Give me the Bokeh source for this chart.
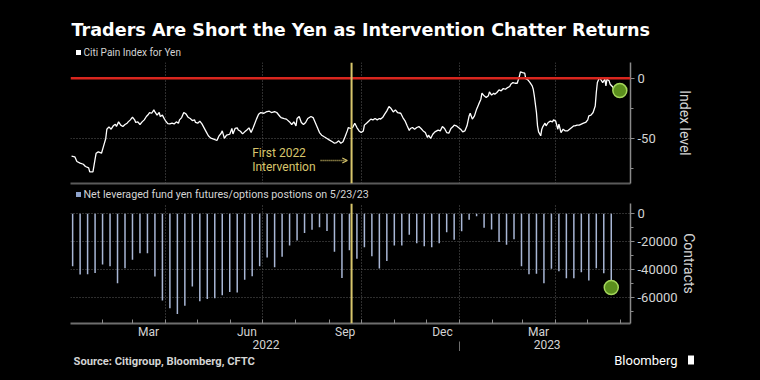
import pandas as pd
from bokeh.plotting import figure
from bokeh.layouts import column
from bokeh.models import (Range1d, FixedTicker, PrintfTickFormatter, DatetimeTickFormatter,
                          DatetimeAxis, Span, Label, Arrow, OpenHead)
from bokeh.embed import file_html
from bokeh.resources import INLINE
from bokeh.core.properties import value

# ---------------- data ----------------
pain_base = "2022-01-04"
pain_days = [-1, 2, 4, 7, 10, 12, 15, 16, 19, 21, 22, 24, 27, 29, 31, 32, 34, 36, 38, 40, 41, 43, 45, 47, 49,
             51, 52, 54, 56, 58, 59, 61, 63, 65, 67, 69, 71, 72, 74, 76, 77, 79, 81, 82, 84, 86, 87, 89, 91, 93,
             95, 97, 99, 100, 102, 104, 106, 108, 110, 112, 114, 115, 117, 119, 121, 123, 125, 127, 129, 130,
             132, 135, 137, 139, 140, 142, 144, 147, 149, 150, 152, 154, 155, 157, 159, 161, 163, 165,
             167, 169, 172, 174, 176, 179, 181, 184, 186, 189, 191, 194, 195, 198, 200, 203, 205, 207, 209,
             210, 212, 214, 216, 218, 220, 223, 225, 227, 229, 231, 233, 235, 238, 240, 243, 245, 247, 249,
             251, 253, 255, 257, 258, 260, 262, 264, 266, 268, 270, 272, 273, 275, 277, 279, 281, 283, 285,
             287, 288, 290, 292, 294, 296, 298, 300, 302, 304, 307, 309, 311, 313, 315, 316, 318, 320, 322,
             324, 326, 328, 330, 332, 333, 335, 337, 339,
             342, 344, 346, 348, 350, 352, 354, 356, 357, 359, 361, 363, 365, 367, 369, 371, 372, 374, 376,
             378, 380, 382, 383, 385, 387, 389, 390, 392, 394, 395, 397, 399, 401, 403, 405, 407, 409, 410,
             412, 414, 416, 418, 419, 421, 423, 424, 426, 428, 430, 431, 432, 434, 435, 436, 438, 439, 440,
             442, 443, 445, 447, 449, 450, 452, 454, 455, 457, 459, 461, 463, 465, 467, 469, 470, 472, 474,
             476, 478, 480, 482, 483, 485, 487, 489, 490, 491, 493, 495, 496, 498, 499, 500, 502, 503, 505,
             507, 509, 512]
pain_values = [-65.0, -65.5, -69.4, -70.8, -71.7, -73.6, -74.7, -78.0, -78.0, -67.5, -62.5, -61.4, -62.5,
               -56.4, -50.2, -42.5, -40.5, -42.5, -39.7, -38.3, -40.3, -36.4, -39.1, -40.3, -38.6,
               -37.5, -36.4, -34.7, -32.5, -34.7, -36.9, -36.4, -38.6, -36.4, -34.7, -31.9, -30.0, -28.6,
               -29.2, -26.4, -28.1, -30.8, -28.6, -31.9, -30.8, -34.2, -35.5, -37.8, -38.1, -37.5,
               -38.1, -36.4, -37.5, -34.7, -32.8, -28.6, -29.7, -32.5, -33.6, -35.3, -34.7, -36.9, -37.5,
               -35.8, -38.1, -41.4, -44.7, -48.0, -49.7, -50.2,
               -50.8, -51.9, -48.0, -45.9, -43.9, -50.2, -47.5, -46.7, -41.9, -46.4, -41.9, -41.4, -43.1,
               -44.2, -46.4, -44.7, -43.1, -41.4,
               -45.3, -41.1, -34.1, -30.0, -28.6, -29.2, -28.1, -27.5, -28.6, -27.8, -28.6, -31.9, -32.8,
               -33.6, -34.1, -36.4, -38.6, -36.4, -39.7,
               -33.6, -31.9, -36.9, -38.6, -36.9, -33.6, -31.9, -32.8, -36.9, -41.1, -45.3, -47.5, -48.6,
               -50.2, -51.4, -53.0, -54.2, -53.6, -52.2,
               -54.2, -53.0, -48.6, -43.9, -41.1, -41.9, -41.1, -37.5, -41.1, -43.9, -45.3, -43.9, -39.1,
               -37.5, -35.8, -34.1, -34.7, -33.6, -34.7,
               -33.6, -34.1, -32.8, -30.0, -27.2, -23.6, -25.3, -28.1, -26.4, -28.6, -29.2, -32.8, -35.5,
               -39.7, -43.6, -41.9, -41.1, -42.5, -41.1,
               -40.3, -41.9, -43.9, -45.3, -49.4, -47.5, -50.2, -46.7, -44.7,
               -43.3, -43.9, -40.3, -41.9, -45.3, -45.8, -41.9, -40.3, -39.1, -39.7, -41.1, -42.5, -44.7,
               -43.9, -39.7, -31.4, -29.2, -34.1, -31.4,
               -25.8, -21.6, -17.5, -12.5, -14.7, -16.1, -14.7, -11.4, -14.1, -12.5, -13.3, -11.9, -9.7,
               -10.5, -8.6, -9.2, -7.8, -6.9, -5.0,
               -3.6, -4.2, -4.2, 1.4, 5.3, 4.7, 4.2, -0.3, -1.4, -3.6, -6.4, -9.2, -14.7, -28.6, -39.7,
               -44.7, -48.0, -42.5, -40.3,
               -37.5, -39.7, -36.9, -35.8, -36.4, -34.7, -35.8, -42.5, -38.3, -45.3, -42.5, -43.9, -43.9,
               -42.5, -41.1, -39.7, -39.7, -39.1, -39.1,
               -38.3, -37.5, -36.9, -34.7, -31.4, -30.8, -28.6, -23.1, -11.9, -3.6, 0.6, -2.2, -3.6, -0.8,
               -6.4, -0.8, -2.2, -5.0, -6.9,
               -9.2, -9.2, -10.3]

pos_start = "2022-01-04"   # weekly CFTC reports, last one 5/23/23
positions = [-37700, -43700, -43400, -42500, -36500, -37700, -49900, -39100, -33100, -28300,
             -28300, -45100, -62400, -67900, -72000, -66200, -52300, -62900, -61200, -60700,
             -58500, -56300, -56600, -47500, -45000, -37700, -31500, -38400, -30900, -22800,
             -19200, -13900, -11500, -9600, -12300, -27300, -46200, -26300, -32400, -24000,
             -30500, -39300, -34000, -22800, -22800, -15100, -21100, -23300, -24000, -21100,
             -13200, -18700, -12500, -4300, -1700, -10100, -11300, -20200, -22300, -18300,
             -37700, -43400, -43200, -49900, -39600, -41300, -46300, -46300, -42000, -48000,
             -39100, -42700, -53000]

month_labels = ["2022-03-16", "2022-06-16", "2022-09-16", "2022-12-16", "2023-03-16"]
year_labels = ["2022-07-04", "2023-03-24"]
intervention_date = "2022-09-22"

TITLE = "Traders Are Short the Yen as Intervention Chatter Returns"
LEGEND_TOP = "Citi Pain Index for Yen"
LEGEND_BOTTOM = "Net leveraged fund yen futures/options postions on 5/23/23"
SOURCE = "Source: Citigroup, Bloomberg, CFTC"


def ms(d):
    return pd.Timestamp(d).value / 1e6


pain_dates = [pd.Timestamp(pain_base) + pd.Timedelta(days=d) for d in pain_days]
bar_dates = list(pd.date_range(pos_start, periods=len(positions), freq="7D"))

quarter_starts = [ms(d) for d in ["2022-04-01", "2022-07-01", "2022-10-01", "2023-01-01", "2023-04-01"]]
month_starts = [ms(d) for d in pd.date_range("2022-02-01", "2023-06-01", freq="MS")]

FONT = "Roboto"
BG = "black"
GRID = "#5c5c5c"
AXIS = "#8a8a8a"
TXT = "#d4d4d4"
YELLOW = "#d8c66c"
BAR = "#a9b7d6"
W = 760

xr = Range1d(start=ms("2022-01-02"), end=ms("2023-06-10"))


def strip(h):
    # full-width text strip, not aligned with the panels' frames; x data units = page pixels
    p = figure(width=W, height=h, x_range=Range1d(0, W), y_range=Range1d(0, h),
               frame_align=False, min_border=0,
               x_axis_location=None, y_axis_location=None,
               output_backend="svg", toolbar_location=None,
               background_fill_color=BG, border_fill_color=BG, outline_line_color=None)
    p.grid.visible = False
    return p


def style_right_axis(ax, ticks, minor, label, standoff):
    ax.ticker = FixedTicker(ticks=ticks, minor_ticks=minor)
    ax.formatter = PrintfTickFormatter(format="%d")
    ax.axis_line_color = AXIS
    ax.axis_line_width = 1.5
    ax.major_tick_out = 4
    ax.major_tick_in = 0
    ax.minor_tick_out = 3
    ax.minor_tick_in = 0
    ax.major_tick_line_color = AXIS
    ax.minor_tick_line_color = AXIS
    ax.major_label_text_color = TXT
    ax.major_label_text_font_size = "13px"
    ax.major_label_text_font = FONT
    ax.major_label_standoff = 3
    ax.axis_label = label
    ax.axis_label_text_color = TXT
    ax.axis_label_text_font = FONT
    ax.axis_label_text_font_size = "14px"
    ax.axis_label_text_font_style = "normal"
    ax.axis_label_standoff = standoff


# ---------------- header: title + first legend ----------------
pH = strip(62)
pH.text(x=[71], y=[33], text=[TITLE], text_color="white", text_font=value("DejaVu Sans"),
        text_font_size="17.6px", text_font_style="bold", text_baseline="middle")
pH.scatter(x=[78], y=[10], marker="square", size=5, fill_color="white", line_color=None)
pH.text(x=[83], y=[10], text=[LEGEND_TOP], text_color=TXT, text_font=value(FONT),
        text_font_size="10px", text_baseline="middle")

# ---------------- top panel ----------------
pA = figure(x_axis_type="datetime", y_axis_location="right", x_range=xr, y_range=Range1d(-87.75, 13.1),
            frame_width=560, frame_height=121, min_border_left=70, min_border_right=130,
            min_border_top=0, min_border_bottom=2, output_backend="svg", toolbar_location=None,
            background_fill_color=BG, border_fill_color=BG, outline_line_color=None)

style_right_axis(pA.yaxis[0], [0, -50], [-25, -75], "Index level", 18)
xa = pA.xaxis[0]
xa.ticker = FixedTicker(ticks=[])
xa.major_label_standoff = 0
xa.major_tick_out = 0
xa.major_tick_in = 0
xa.minor_tick_out = 0
xa.minor_tick_in = 0
xa.axis_line_color = "#5a5a5a"
xa.axis_line_width = 2

pA.xgrid.ticker = FixedTicker(ticks=quarter_starts)
pA.ygrid.ticker = FixedTicker(ticks=[-50])
for g in (pA.xgrid[0], pA.ygrid[0]):
    g.grid_line_color = GRID
    g.grid_line_dash = "1 2"

pA.add_layout(Span(location=0, dimension="width", line_color="#d9261e", line_width=2.5))
pA.line(pain_dates, pain_values, line_color="white", line_width=1.3)
pA.add_layout(Span(location=ms(intervention_date), dimension="height", line_color=YELLOW, line_width=2))
pA.scatter([pain_dates[-1]], [pain_values[-1]], size=14, fill_color="#5b8f1d",
           line_color="#a3d65a", line_width=1.5)

pA.add_layout(Label(x=ms("2022-06-21"), y=-62.5, text="First 2022", text_color=YELLOW,
                    text_font=FONT, text_font_size="12px", text_baseline="alphabetic"))
pA.add_layout(Label(x=ms("2022-06-21"), y=-73.6, text="Intervention", text_color=YELLOW,
                    text_font=FONT, text_font_size="12px", text_baseline="alphabetic"))
pA.add_layout(Arrow(x_start=ms("2022-08-24"), y_start=-68.6, x_end=ms("2022-09-18"), y_end=-68.6,
                    line_color=YELLOW, line_width=1.3, line_dash="1 1",
                    end=OpenHead(size=5, line_color=YELLOW, line_width=1.2)))

# ---------------- middle strip: second legend ----------------
pM = strip(18)
pM.scatter(x=[78], y=[9], marker="square", size=5, fill_color="#8ea3cc", line_color=None)
pM.text(x=[83], y=[9], text=[LEGEND_BOTTOM], text_color=TXT, text_font=value(FONT),
        text_font_size="10.7px", text_baseline="middle")

# ---------------- bottom panel ----------------
pB = figure(x_axis_type="datetime", y_axis_location="right", x_range=xr, y_range=Range1d(-78900, 7400),
            frame_width=560, frame_height=120, min_border_left=70, min_border_right=130,
            min_border_top=0, min_border_bottom=25, output_backend="svg", toolbar_location=None,
            background_fill_color=BG, border_fill_color=BG, outline_line_color=None)

style_right_axis(pB.yaxis[0], [0, -20000, -40000, -60000], [-10000, -30000, -50000, -70000],
                 "Contracts", 0)

pB.xgrid.ticker = FixedTicker(ticks=quarter_starts)
pB.ygrid.ticker = FixedTicker(ticks=[0, -20000, -40000, -60000])
for g in (pB.xgrid[0], pB.ygrid[0]):
    g.grid_line_color = GRID
    g.grid_line_dash = "1 2"

pB.vbar(x=bar_dates, top=0, bottom=positions, width=1.4 * 86400000, fill_color=BAR, line_color=None)
pB.add_layout(Span(location=ms(intervention_date), dimension="height", line_color=YELLOW, line_width=2))
pB.scatter([bar_dates[-1]], [positions[-1]], size=14, fill_color="#5b8f1d",
           line_color="#a3d65a", line_width=1.5)

xb = pB.xaxis[0]
xb.ticker = FixedTicker(ticks=[ms(d) for d in month_labels], minor_ticks=month_starts)
xb.formatter = DatetimeTickFormatter(days="%b", months="%b", years="%b")
xb.axis_line_color = "#6e6e6e"
xb.axis_line_width = 2
xb.major_tick_in = 0
xb.major_tick_out = 0
xb.minor_tick_in = 4
xb.minor_tick_out = 0
xb.minor_tick_line_color = AXIS
xb.major_label_standoff = 1
xb.major_label_text_color = TXT
xb.major_label_text_font = FONT
xb.major_label_text_font_size = "12px"

xb2 = DatetimeAxis(ticker=FixedTicker(ticks=[ms(d) for d in year_labels], minor_ticks=[ms("2023-01-01")]),
                   formatter=DatetimeTickFormatter(days="%Y", months="%Y", years="%Y"))
xb2.axis_line_color = None
xb2.major_tick_in = 0
xb2.major_tick_out = 0
xb2.minor_tick_in = 0
xb2.minor_tick_out = 14
xb2.minor_tick_line_color = "#6e6e6e"
xb2.major_label_standoff = -16
xb2.major_label_text_color = TXT
xb2.major_label_text_font = FONT
xb2.major_label_text_font_size = "12px"
pB.add_layout(xb2, "below")

# ---------------- footer ----------------
pF = strip(30)
pF.text(x=[73], y=[20.5], text=[SOURCE], text_color=TXT, text_font=value(FONT),
        text_font_size="11.2px", text_font_style="bold", text_baseline="middle")
pF.text(x=[677], y=[21.5], text=["Bloomberg"], text_color="white", text_font=value(FONT),
        text_font_size="13px", text_align="right", text_baseline="middle")
pF.rect(x=[690.5], y=[21.5], width=6, height=9, fill_color="white", line_color=None)

layout = column(pH, pA, pM, pB, pF, spacing=0, styles={"background-color": "black"})
open("out.html", "w").write(file_html(layout, INLINE))
